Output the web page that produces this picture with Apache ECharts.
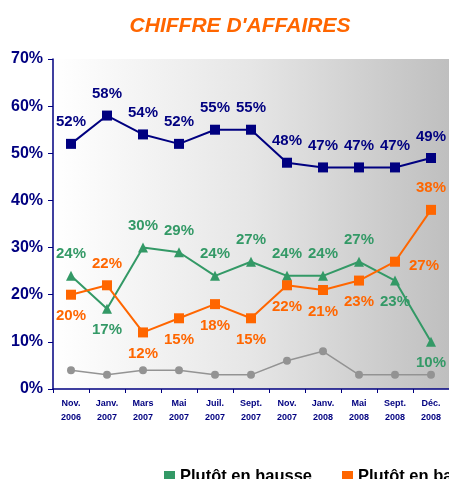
<!DOCTYPE html>
<html>
<head>
<meta charset="utf-8">
<script src="https://cdn.jsdelivr.net/npm/echarts@6/dist/echarts.min.js"></script>
<style>
  html, body { margin: 0; padding: 0; background: #fff; overflow: hidden; }
  #chart { width: 449px; height: 479px; }
</style>
</head>
<body>
<div id="chart"></div>
<script>
  var categories = ['Nov.\n2006', 'Janv.\n2007', 'Mars\n2007', 'Mai\n2007', 'Juil.\n2007', 'Sept.\n2007',
    'Nov.\n2007', 'Janv.\n2008', 'Mai\n2008', 'Sept.\n2008', 'Déc.\n2008'];
  var stable = [52, 58, 54, 52, 55, 55, 48, 47, 47, 47, 49];
  var hausse = [24, 17, 30, 29, 24, 27, 24, 24, 27, 23, 10];
  var baisse = [20, 22, 12, 15, 18, 15, 22, 21, 23, 27, 38];
  var nsp = [4, 3, 4, 4, 3, 3, 6, 8, 3, 3, 3];

  // where each value label sits
  var hausseLabelPos = ['top', 'bottom', 'top', 'top', 'top', 'top', 'top', 'top', 'top', 'bottom', 'bottom'];
  var baisseLabelPos = ['bottom', 'top', 'bottom', 'bottom', 'bottom', 'bottom', 'bottom', 'bottom', 'bottom', 'right', 'top'];

  var NAVY = '#000080', GREEN = '#339966', ORANGE = '#ff6600', GREY = '#939393';
  var FONT = 'Liberation Sans, Arial, sans-serif';

  function withLabels(values, positions) {
    return values.map(function (v, i) {
      var pos = positions[i];
      var off = pos === 'top' ? [0, -4] : pos === 'bottom' ? [0, 4] : [4, 4];
      return {value: v, label: {position: pos, offset: off}};
    });
  }

  var chart = echarts.init(document.getElementById('chart'));
  chart.setOption({
    animation: false,
    title: {
      text: "CHIFFRE D'AFFAIRES",
      left: 235,
      textAlign: 'center',
      top: 11,
      textStyle: {
        color: ORANGE,
        fontFamily: FONT,
        fontWeight: 'bold',
        fontStyle: 'italic',
        fontSize: 21
      }
    },
    legend: {
      left: 159,
      top: 463,
      width: 700,
      itemWidth: 11,
      itemHeight: 11,
      itemGap: 30,
      icon: 'rect',
      data: ['Plutôt en hausse', 'Plutôt en baisse'],
      textStyle: {
        color: '#000',
        fontFamily: FONT,
        fontWeight: 'bold',
        fontSize: 16.5
      }
    },
    grid: {
      left: 53,
      right: 0,
      top: 59,
      bottom: 90,
      show: true,
      borderWidth: 0,
      backgroundColor: new echarts.graphic.LinearGradient(0, 0, 1, 0, [
        {offset: 0, color: '#ffffff'},
        {offset: 0.5, color: '#e6e6e6'},
        {offset: 1, color: '#bfbfbf'}
      ])
    },
    xAxis: {
      type: 'category',
      data: categories,
      boundaryGap: true,
      axisLine: {lineStyle: {color: NAVY, width: 1.5}},
      axisTick: {show: true, length: 4, lineStyle: {color: NAVY}},
      axisLabel: {
        color: NAVY,
        fontFamily: FONT,
        fontWeight: 'bold',
        fontSize: 9,
        lineHeight: 14,
        interval: 0,
        margin: 8
      }
    },
    yAxis: {
      type: 'value',
      min: 0,
      max: 70,
      interval: 10,
      axisLine: {show: true, lineStyle: {color: NAVY, width: 1.5}},
      axisTick: {show: true, inside: false, length: 5, lineStyle: {color: NAVY}},
      splitLine: {show: false},
      axisLabel: {
        formatter: '{value}%',
        color: NAVY,
        fontFamily: FONT,
        fontWeight: 'bold',
        fontSize: 16,
        margin: 10
      }
    },
    series: [
      {
        name: 'Ne sait pas',
        type: 'line',
        data: nsp,
        symbol: 'circle',
        symbolSize: 8,
        itemStyle: {color: GREY},
        lineStyle: {color: GREY, width: 1.5},
        label: {show: false}
      },
      {
        name: 'Plutôt en hausse',
        type: 'line',
        data: withLabels(hausse, hausseLabelPos),
        symbol: 'triangle',
        symbolSize: 10,
        itemStyle: {color: GREEN},
        lineStyle: {color: GREEN, width: 2},
        label: {
          show: true,
          formatter: '{c}%',
          color: GREEN,
          fontFamily: FONT,
          fontWeight: 'bold',
          fontSize: 15
        }
      },
      {
        name: 'Plutôt en baisse',
        type: 'line',
        data: withLabels(baisse, baisseLabelPos),
        symbol: 'rect',
        symbolSize: 10,
        itemStyle: {color: ORANGE},
        lineStyle: {color: ORANGE, width: 2},
        label: {
          show: true,
          formatter: '{c}%',
          color: ORANGE,
          fontFamily: FONT,
          fontWeight: 'bold',
          fontSize: 15
        }
      },
      {
        name: 'Stable',
        type: 'line',
        data: stable,
        symbol: 'rect',
        symbolSize: 10,
        itemStyle: {color: NAVY},
        lineStyle: {color: NAVY, width: 2},
        label: {
          show: true,
          position: 'top',
          offset: [0, -4],
          formatter: '{c}%',
          color: NAVY,
          fontFamily: FONT,
          fontWeight: 'bold',
          fontSize: 15
        }
      }
    ]
  });
</script>
</body>
</html>
